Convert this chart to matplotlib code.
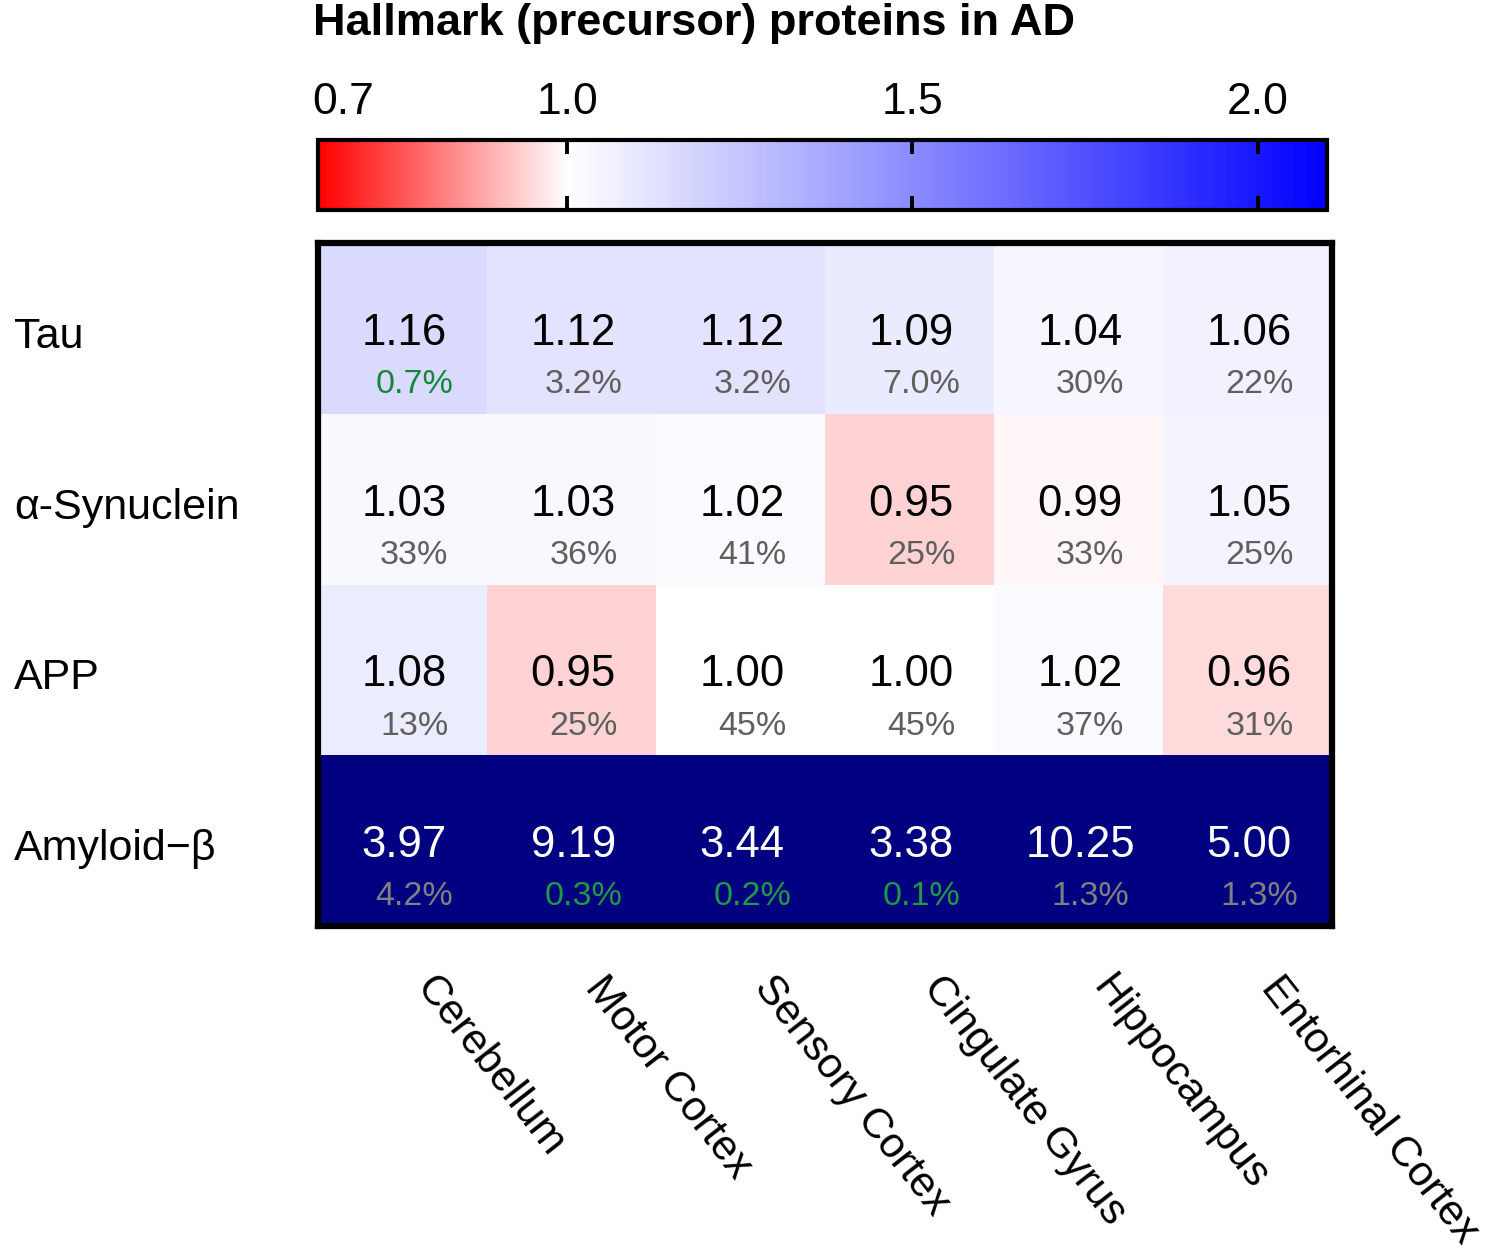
import numpy as np
import matplotlib
matplotlib.use("Agg")
import matplotlib.pyplot as plt
from matplotlib.colors import LinearSegmentedColormap, FuncNorm
import matplotlib.transforms as mtransforms

plt.rcParams['font.family'] = ['Liberation Sans', 'DejaVu Sans']

# ---- data ----
proteins = ["Tau", "α-Synuclein", "APP", "Amyloid−β"]
regions = ["Cerebellum", "Motor Cortex", "Sensory Cortex", "Cingulate Gyrus",
           "Hippocampus", "Entorhinal Cortex"]
ratio = np.array([
    [1.16, 1.12, 1.12, 1.09, 1.04, 1.06],
    [1.03, 1.03, 1.02, 0.95, 0.99, 1.05],
    [1.08, 0.95, 1.00, 1.00, 1.02, 0.96],
    [3.97, 9.19, 3.44, 3.38, 10.25, 5.00],
])
pct = np.array([
    [0.7, 3.2, 3.2, 7.0, 30, 22],
    [33, 36, 41, 25, 33, 25],
    [13, 25, 45, 45, 37, 31],
    [4.2, 0.3, 0.2, 0.1, 1.3, 1.3],
])
cbar_ticks = [0.7, 1.0, 1.5, 2.0]
vmin, vmid, vmax = 0.7, 1.0, 2.1

# piecewise linear scale: red part is compressed on the colour bar
a = 0.2468


def fwd(x):
    x = np.asarray(x, dtype=float)
    return np.where(x < vmid, (x - vmid) * a / (vmid - vmin),
                    (x - vmid) * (1 - a) / (vmax - vmid))


def inv(y):
    y = np.asarray(y, dtype=float)
    return np.where(y < 0, vmid + y * (vmid - vmin) / a,
                    vmid + y * (vmax - vmid) / (1 - a))


norm = FuncNorm((fwd, inv), vmin=vmin, vmax=vmax)
cmap = LinearSegmentedColormap.from_list(
    "rwb", [(0.0, "#ff0000"), (a, "#ffffff"), (1.0, "#0000ff")])
cmap.set_over("#000080")

W, H = 1512, 1255
fig = plt.figure(figsize=(W / 100, H / 100), dpi=100)

# ---- heatmap ----
ax = fig.add_axes([318 / W, 1 - 926 / H, 1014 / W, 683 / H])
mesh = ax.pcolormesh(np.arange(7), np.arange(5), ratio, cmap=cmap, norm=norm)
ax.set_xlim(0, 6)
ax.set_ylim(4, 0)
ax.set_xticks([])
ax.set_yticks([])
for s in ax.spines.values():
    s.set_linewidth(4.5)
    s.set_color("black")

for i in range(len(proteins)):
    for j in range(len(regions)):
        v = ratio[i, j]
        p = pct[i, j]
        dark = v > vmax
        ax.text(j + 0.51, i + 0.53, f"{v:.2f}", ha="center", va="center",
                fontsize=31.5, color="white" if dark else "black")
        ptxt = f"{p:.1f}%" if p < 10 else f"{p:.0f}%"
        if p < 1:
            pc = "#1f9a45" if dark else "#13873a"
        else:
            pc = "#808080" if dark else "#5f5f5f"
        ax.text(j + 0.57, i + 0.83, ptxt, ha="center", va="center",
                fontsize=24.5, color=pc)

# row labels
trans = mtransforms.blended_transform_factory(fig.transFigure, ax.transData)
for i, name in enumerate(proteins):
    ax.text(14 / W, i + 0.55, name, transform=trans, ha="left", va="center",
            fontsize=31)

# column labels
for j, name in enumerate(regions):
    ax.text(j + 0.72, 4.25, name, ha="left", va="top", rotation=-52,
            rotation_mode="anchor", fontsize=30.5)

# ---- colour bar ----
cax = fig.add_axes([318 / W, 1 - 210 / H, 1009 / W, 70 / H])
cb = fig.colorbar(mesh, cax=cax, orientation="horizontal", extend="neither")
cb.outline.set_linewidth(3)
cb.set_ticks([1.0, 1.5, 2.0])
cax.tick_params(axis="x", direction="in", top=True, bottom=True,
                labeltop=False, labelbottom=False, length=10, width=2.8,
                color="black")
ctrans = mtransforms.blended_transform_factory(cax.transData, cax.transAxes)
for t in cbar_ticks:
    xpos = t if t > vmin else 0.73
    cax.text(xpos, 1.25, f"{t:.1f}", ha="center", va="bottom", fontsize=32,
             transform=ctrans)

fig.text(313 / W, 1 - 24 / H, "Hallmark (precursor) proteins in AD",
         ha="left", va="center", fontsize=32.5, fontweight="bold")

fig.savefig("out.png", dpi=100)
